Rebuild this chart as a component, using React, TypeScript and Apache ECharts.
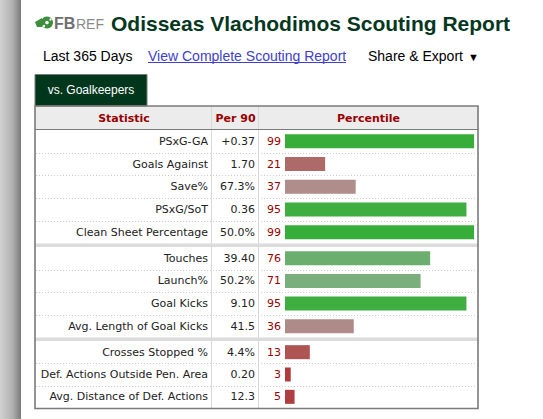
import React, { useEffect, useRef } from "react";
import * as echarts from "echarts";

const statistics = [
  "PSxG-GA",
  "Goals Against",
  "Save%",
  "PSxG/SoT",
  "Clean Sheet Percentage",
  "Touches",
  "Launch%",
  "Goal Kicks",
  "Avg. Length of Goal Kicks",
  "Crosses Stopped %",
  "Def. Actions Outside Pen. Area",
  "Avg. Distance of Def. Actions",
];
const per90 = ["+0.37", "1.70", "67.3%", "0.36", "50.0%", "39.40", "50.2%", "9.10", "41.5", "4.4%", "0.20", "12.3"];
const percentiles = [99, 21, 37, 95, 99, 76, 71, 95, 36, 13, 3, 5];
const groupSizes = [5, 4, 3];
const columnHeaders = ["Statistic", "Per 90", "Percentile"];
const barColors = [
  "#36ae39", "#ae6a68", "#ae8d8b", "#3fae41", "#36ae39",
  "#6cae6e", "#7aae7c", "#3fae41", "#ae8b89",
  "#ae5453", "#ae3c3d", "#ae3e3f",
];

const TABLE_FONT = "Verdana, 'DejaVu Sans', sans-serif";
const PAGE_FONT = "Arial, 'Liberation Sans', sans-serif";
const GRID_TOPS = [130, 247, 341];
const GRID_HEIGHTS = [113.5, 90.5, 67];
const BAR_LEFT = 285;
const BAR_RIGHT = 67;
const TBL_L = 35;
const TBL_R = 478;
const TBL_T = 106;
const TBL_B = 408.5;

export default function App() {
  const ref = useRef<HTMLDivElement>(null);
  useEffect(() => {
    if (!ref.current) return;
    const chart = echarts.init(ref.current, undefined, { renderer: "svg" });

    const grids: any[] = [];
    const xAxes: any[] = [];
    const yAxes: any[] = [];
    const series: any[] = [];
    const graphics: any[] = [];

    let start = 0;
    groupSizes.forEach((n, g) => {
      const stats = statistics.slice(start, start + n);
      const vals = per90.slice(start, start + n);
      const pcts = percentiles.slice(start, start + n);
      const cols = barColors.slice(start, start + n);
      grids.push({ left: BAR_LEFT, right: BAR_RIGHT, top: GRID_TOPS[g], height: GRID_HEIGHTS[g] });
      xAxes.push({ gridIndex: g, type: "value", min: 0, max: 100, show: false });
      const baseAxis = {
        gridIndex: g,
        type: "category",
        inverse: true,
        position: "left",
        axisLine: { show: false },
        axisTick: { show: false },
        splitLine: { show: false },
      };
      yAxes.push({
        ...baseAxis,
        data: stats,
        axisLabel: { margin: 77, fontSize: 11, color: "#222", fontFamily: TABLE_FONT },
      });
      yAxes.push({
        ...baseAxis,
        data: vals,
        axisLabel: { margin: 30, fontSize: 11, color: "#222", fontFamily: TABLE_FONT },
      });
      series.push({
        type: "bar",
        xAxisIndex: g,
        yAxisIndex: g * 2,
        barWidth: 14,
        data: pcts.map((v, i) => ({ value: v, itemStyle: { color: cols[i] } })),
        label: {
          show: true,
          position: "left",
          distance: 4,
          color: "#990000",
          fontSize: 11,
          fontFamily: TABLE_FONT,
        },
      });
      // dotted row separators
      for (let i = 1; i < n; i++) {
        const y = Math.round(GRID_TOPS[g] + (i * GRID_HEIGHTS[g]) / n) + 0.5;
        graphics.push({
          type: "line",
          z: 1,
          shape: { x1: TBL_L + 1, y1: y, x2: TBL_R - 1, y2: y },
          style: { stroke: "#cccccc", lineWidth: 1, lineDash: [1, 2] },
        });
      }
      start += n;
    });

    // left gray strip
    graphics.push({
      type: "rect",
      z: 0,
      shape: { x: 0, y: 0, width: 21, height: 419 },
      style: {
        fill: new echarts.graphic.LinearGradient(0, 0, 1, 0, [
          { offset: 0, color: "#d2d2d2" },
          { offset: 0.6, color: "#b0b0b0" },
          { offset: 1, color: "#7a7a7a" },
        ]),
      },
    });

    // logo
    graphics.push({
      type: "group",
      z: 5,
      children: [
        { type: "polygon", shape: { points: [[35, 22], [42, 18], [42, 27], [37, 27]] }, style: { fill: "#3c8d3c" } },
        { type: "circle", shape: { cx: 47, cy: 22.5, r: 6 }, style: { fill: "#3c8d3c" } },
        { type: "circle", shape: { cx: 47, cy: 22.5, r: 1.8 }, style: { fill: "#ffffff" } },
        { type: "circle", shape: { cx: 50.5, cy: 19.5, r: 1.2 }, style: { fill: "#ffffff" } },
        { type: "circle", shape: { cx: 44, cy: 26, r: 1.2 }, style: { fill: "#ffffff" } },
        {
          type: "text",
          style: { text: "FB", x: 54, y: 23, font: "bold 16px " + PAGE_FONT, fill: "#6f6f6f", verticalAlign: "middle" },
        },
        {
          type: "text",
          style: { text: "REF", x: 76, y: 23.5, font: "14px " + PAGE_FONT, fill: "#8a8a8a", verticalAlign: "middle" },
        },
      ],
    });

    // title
    graphics.push({
      type: "text",
      z: 5,
      style: {
        text: "Odisseas Vlachodimos Scouting Report",
        x: 111,
        y: 23,
        font: "bold 21px " + PAGE_FONT,
        fill: "#05371f",
        verticalAlign: "middle",
      },
    });

    // sub line
    graphics.push({
      type: "text",
      z: 5,
      style: { text: "Last 365 Days", x: 43, y: 56, font: "14px " + PAGE_FONT, fill: "#000", verticalAlign: "middle" },
    });
    graphics.push({
      type: "text",
      z: 5,
      style: { text: "View Complete Scouting Report", x: 148, y: 56, font: "14px " + PAGE_FONT, fill: "#4040cc", verticalAlign: "middle" },
    });
    graphics.push({
      type: "line",
      z: 5,
      shape: { x1: 148, y1: 62.5, x2: 346, y2: 62.5 },
      style: { stroke: "#4040cc", lineWidth: 1 },
    });
    graphics.push({
      type: "text",
      z: 5,
      style: { text: "Share & Export", x: 368, y: 56, font: "14px " + PAGE_FONT, fill: "#000", verticalAlign: "middle" },
    });
    graphics.push({
      type: "text",
      z: 5,
      style: { text: "▼", x: 468, y: 57, font: "11px " + PAGE_FONT, fill: "#000", verticalAlign: "middle" },
    });

    // tab
    graphics.push({
      type: "rect",
      z: 2,
      shape: { x: 35, y: 74.5, width: 112, height: 31.5 },
      style: { fill: "#00371c", stroke: "#7a7a7a", lineWidth: 1 },
    });
    graphics.push({
      type: "text",
      z: 5,
      style: {
        text: "vs. Goalkeepers",
        x: 91,
        y: 90,
        font: "12px " + PAGE_FONT,
        fill: "#ffffff",
        align: "center",
        verticalAlign: "middle",
      },
    });

    // header background
    graphics.push({
      type: "rect",
      z: 0,
      shape: { x: TBL_L, y: TBL_T, width: TBL_R - TBL_L, height: 23.5 },
      style: { fill: "#ececec" },
    });
    // group separator bands
    graphics.push({
      type: "rect",
      z: 0,
      shape: { x: TBL_L, y: 243.5, width: TBL_R - TBL_L, height: 3.5 },
      style: { fill: "#dcdcdc" },
    });
    graphics.push({
      type: "rect",
      z: 0,
      shape: { x: TBL_L, y: 337.5, width: TBL_R - TBL_L, height: 3.5 },
      style: { fill: "#dcdcdc" },
    });
    // column separators
    [212, 259].forEach((x) => {
      graphics.push({
        type: "line",
        z: 1,
        shape: { x1: x - 0.5, y1: TBL_T, x2: x - 0.5, y2: TBL_B },
        style: { stroke: "#d8d8d8", lineWidth: 1 },
      });
    });
    // header bottom line
    graphics.push({
      type: "line",
      z: 3,
      shape: { x1: TBL_L, y1: 129.5, x2: TBL_R, y2: 129.5 },
      style: { stroke: "#7a7a7a", lineWidth: 1.2 },
    });
    // outer border
    graphics.push({
      type: "rect",
      z: 3,
      shape: { x: TBL_L, y: TBL_T, width: TBL_R - TBL_L, height: TBL_B - TBL_T },
      style: { fill: "none", stroke: "#7a7a7a", lineWidth: 1.6 },
    });
    // header texts
    const headerX = [124, 235.5, 368.5];
    columnHeaders.forEach((h, i) => {
      graphics.push({
        type: "text",
        z: 5,
        style: {
          text: h,
          x: headerX[i],
          y: 118,
          font: "bold 11px " + TABLE_FONT,
          fill: "#990000",
          align: "center",
          verticalAlign: "middle",
        },
      });
    });

    chart.setOption({
      animation: false,
      backgroundColor: "#ffffff",
      grid: grids,
      xAxis: xAxes,
      yAxis: yAxes,
      series,
      graphic: { elements: graphics },
    });
    return () => chart.dispose();
  }, []);

  return <div ref={ref} style={{ position: "absolute", left: 0, top: 0, width: 543, height: 419 }} />;
}
